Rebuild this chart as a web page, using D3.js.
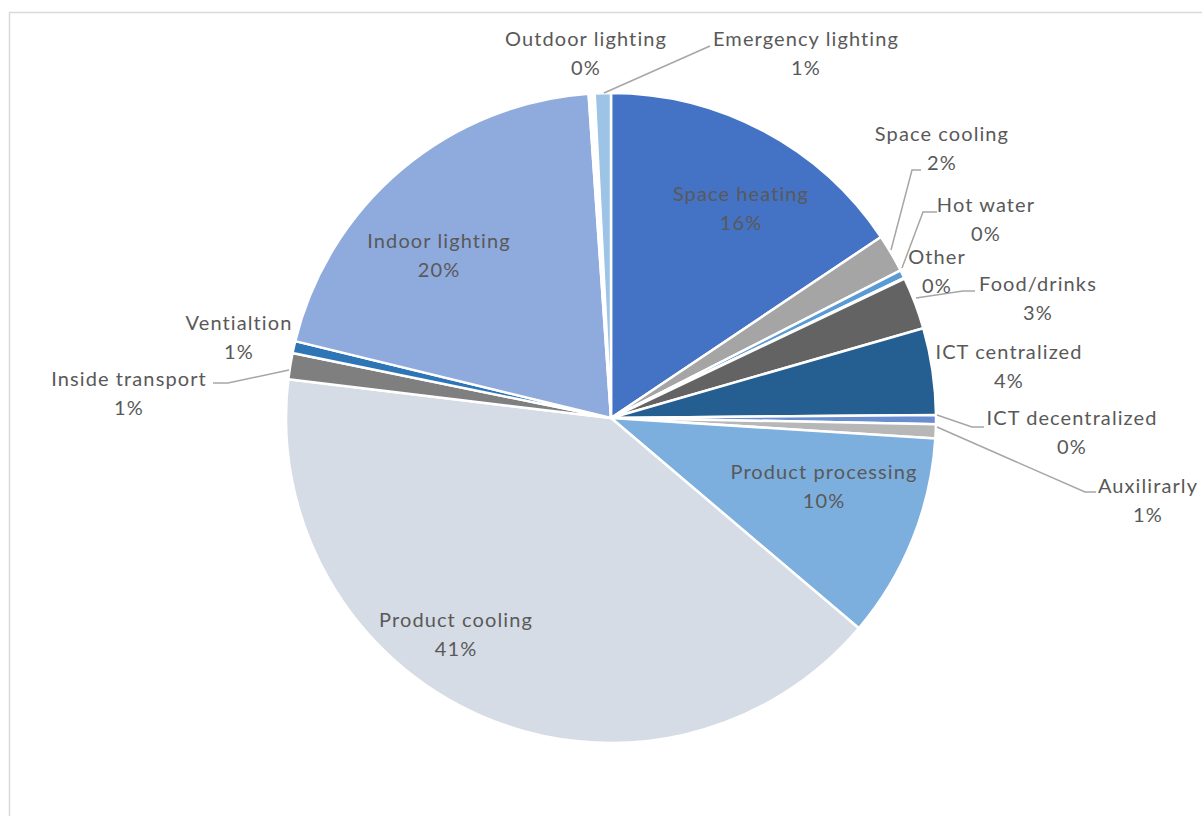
<!DOCTYPE html>
<html>
<head>
<meta charset="utf-8">
<script src="https://cdn.jsdelivr.net/npm/d3@7"></script>
<style>
  html, body { margin: 0; padding: 0; background: #fff; }
  svg { display: block; }
  text { font-family: Lato, "Open Sans", sans-serif; fill: #595959; letter-spacing: 1.1px; }
</style>
</head>
<body>
<svg id="chart" width="1202" height="816"></svg>
<script>
// Energy use by end-use category (share of total)
const categories = [
  "Space heating", "Space cooling", "Hot water", "Other", "Food/drinks",
  "ICT centralized", "ICT decentralized", "Auxilirarly", "Product processing",
  "Product cooling", "Inside transport", "Ventialtion", "Indoor lighting",
  "Outdoor lighting", "Emergency lighting"
];
const values = [15.6, 1.9, 0.4, 0.05, 2.6, 4.3, 0.45, 0.7, 10.2, 40.7, 1.3, 0.6, 20.1, 0.3, 0.8];
const colors = [
  "#4472C4", "#A5A5A5", "#5B9BD5", "#264478", "#636363",
  "#255E91", "#698ED0", "#B7B7B7", "#7CAFDD",
  "#D6DCE5", "#7F7F7F", "#2E75B6", "#8FAADC",
  "#FFFFFF", "#9DC3E6"
];

// Label anchor points (centre of the two-line label) and leader lines
const labelPos = {
  "Space heating": [741, 194],
  "Space cooling": [942, 134],
  "Hot water": [986, 205],
  "Other": [937, 257],
  "Food/drinks": [1038, 284],
  "ICT centralized": [1009, 352],
  "ICT decentralized": [1072, 418],
  "Auxilirarly": [1148, 486],
  "Product processing": [824, 472],
  "Product cooling": [456, 620],
  "Inside transport": [129, 379],
  "Ventialtion": [239, 323],
  "Indoor lighting": [439, 241],
  "Outdoor lighting": [586, 39],
  "Emergency lighting": [806, 39]
};
const leaders = {
  "Emergency lighting": [[710, 46], [604, 93]],
  "Space cooling": [[921, 170], [912, 170], [891, 250]],
  "Hot water": [[937, 212], [923, 212], [902, 268]],
  "Food/drinks": [[975, 291], [963, 291], [916, 298]],
  "ICT decentralized": [[937, 415], [972, 427], [984, 427]],
  "Auxilirarly": [[937, 427], [1085, 492], [1096, 492]],
  "Inside transport": [[213, 383], [228, 383], [289, 370]]
};

const svg = d3.select("#chart");
const cx = 611, cy = 418, radius = 325;

// chart area frame
svg.append("rect")
  .attr("x", 9.5).attr("y", 12.5)
  .attr("width", 1200).attr("height", 820)
  .attr("fill", "none")
  .attr("stroke", "#d9d9d9")
  .attr("stroke-width", 1.5);

const data = categories.map((c, i) => ({ name: c, value: values[i], color: colors[i] }));
const total = d3.sum(values);

const pie = d3.pie().value(d => d.value).sort(null);
const arc = d3.arc().innerRadius(0).outerRadius(radius);

const g = svg.append("g").attr("transform", `translate(${cx},${cy})`);
g.selectAll("path")
  .data(pie(data))
  .join("path")
  .attr("d", arc)
  .attr("fill", d => d.data.color)
  .attr("stroke", "#fff")
  .attr("stroke-width", 2.5)
  .attr("stroke-linejoin", "round");

// leader lines
const line = d3.line();
svg.append("g").selectAll("path")
  .data(Object.entries(leaders))
  .join("path")
  .attr("d", d => line(d[1]))
  .attr("fill", "none")
  .attr("stroke", "#a6a6a6")
  .attr("stroke-width", 1.5);

// two-line labels: name and rounded percentage
const fmt = v => Math.round(v / total * 100) + "%";
const labels = svg.append("g").selectAll("text")
  .data(data)
  .join("text")
  .attr("text-anchor", "middle")
  .attr("font-size", 20)
  .attr("x", d => labelPos[d.name][0])
  .attr("y", d => labelPos[d.name][1]);
labels.append("tspan")
  .attr("x", d => labelPos[d.name][0])
  .attr("dy", "0.35em")
  .text(d => d.name);
labels.append("tspan")
  .attr("x", d => labelPos[d.name][0])
  .attr("dy", 28.5)
  .text(d => fmt(d.value));
</script>
</body>
</html>
